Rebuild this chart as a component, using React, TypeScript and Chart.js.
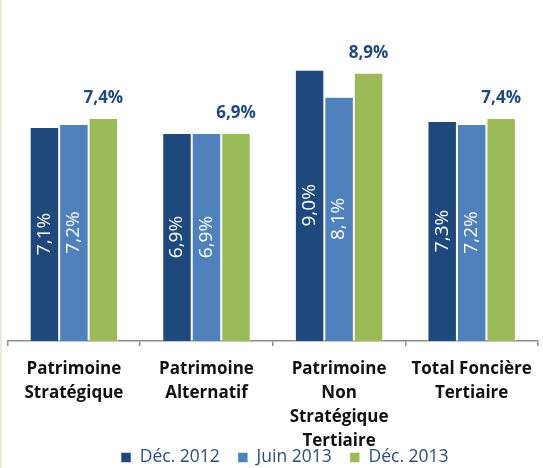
import React, { useEffect, useRef } from "react";
import { Chart, registerables } from "chart.js";

Chart.register(...registerables);

const categories: string[][] = [
  ["Patrimoine", "Stratégique"],
  ["Patrimoine", "Alternatif"],
  ["Patrimoine", "Non", "Stratégique", "Tertiaire"],
  ["Total Foncière", "Tertiaire"],
];
const seriesLabels = ["Déc. 2012", "Juin 2013", "Déc. 2013"];
const dec2012 = [7.1, 6.9, 9.0, 7.3];
const juin2013 = [7.2, 6.9, 8.1, 7.2];
const dec2013 = [7.4, 6.9, 8.9, 7.4];
const seriesColors = ["#1F497D", "#4F81BD", "#9BBB59"];

const fmt = (v: number) => v.toFixed(1).replace(".", ",") + "%";

const LEGEND_PAD = 18;
const LEGEND_FONT = 17.5;

const barLabels = {
  id: "barLabels",
  afterDatasetsDraw(chart: any) {
    const ctx = chart.ctx;
    chart.data.datasets.forEach((ds: any, di: number) => {
      const meta = chart.getDatasetMeta(di);
      meta.data.forEach((bar: any, i: number) => {
        const txt = fmt(ds.data[i]);
        const { x, y, base } = bar.getProps(["x", "y", "base"], true);
        ctx.save();
        if (di < 2) {
          ctx.translate(x, (y + base) / 2);
          ctx.rotate(-Math.PI / 2);
          ctx.font = "19px 'Open Sans'";
          ctx.fillStyle = "#ffffff";
          ctx.textAlign = "center";
          ctx.textBaseline = "middle";
          ctx.fillText(txt, 0, 0);
        } else {
          ctx.font = "bold 17px 'Open Sans'";
          ctx.fillStyle = "#1F497D";
          ctx.textAlign = "center";
          ctx.textBaseline = "alphabetic";
          ctx.fillText(txt, x, y - 15);
        }
        ctx.restore();
      });
    });
  },
};

// Move the legend box so that it can sit partly under the tall category labels
const legendPlacement = {
  id: "legendPlacement",
  afterLayout(chart: any) {
    const lg = chart.legend;
    if (!lg) return;
    const centerY = chart.height - 10.5;
    lg.top = centerY - LEGEND_PAD - LEGEND_FONT / 2;
    lg.bottom = chart.height;
    lg.height = lg.bottom - lg.top;
    lg.left += 10;
    lg.right += 10;
  },
};

export default function App() {
  const ref = useRef<HTMLCanvasElement | null>(null);

  useEffect(() => {
    if (!ref.current) return;
    Chart.defaults.font.family = "'Open Sans', sans-serif";
    const seriesData = [dec2012, juin2013, dec2013];
    const chart = new Chart(ref.current, {
      type: "bar",
      data: {
        labels: categories,
        datasets: seriesLabels.map((label, i) => ({
          label,
          data: seriesData[i],
          backgroundColor: seriesColors[i],
          borderColor: "rgba(255,255,255,0.5)",
          borderWidth: 1,
          borderSkipped: "bottom",
          barPercentage: 1,
          categoryPercentage: 0.667,
        })),
      },
      options: {
        responsive: false,
        animation: false,
        devicePixelRatio: 1,
        layout: { padding: { top: 39.5, left: 7.6, right: 1, bottom: 0 } },
        scales: {
          x: {
            grid: {
              display: true,
              drawOnChartArea: false,
              drawTicks: true,
              tickLength: 5,
              color: "#8c8c8c",
              lineWidth: 1.5,
              offset: true,
            },
            border: { display: true, color: "#8c8c8c", width: 1.5 },
            ticks: {
              color: "#111111",
              font: { weight: "bold", size: 17, lineHeight: 1.42 },
              padding: 11,
              autoSkip: false,
              maxRotation: 0,
              minRotation: 0,
            },
            afterFit: (scale: any) => {
              scale.height = 113;
            },
          },
          y: {
            display: false,
            min: 0,
            max: 10,
          },
        },
        plugins: {
          legend: {
            position: "bottom",
            maxHeight: 14,
            labels: {
              boxWidth: 10,
              boxHeight: 10,
              padding: LEGEND_PAD,
              color: "#2B4E82",
              font: { size: LEGEND_FONT },
            },
          },
          tooltip: { enabled: false },
          title: { display: false },
        },
      },
      plugins: [barLabels, legendPlacement],
    } as any);
    return () => chart.destroy();
  }, []);

  return (
    <div style={{ position: "absolute", left: 0, top: 0, width: 543, height: 468, overflow: "hidden", background: "#ffffff" }}>
      <div style={{ position: "absolute", left: 0, top: 0, width: 2, height: 468, background: "#e4ecd6" }} />
      <canvas ref={ref} width={543} height={468} style={{ display: "block", width: 543, height: 468 }} />
    </div>
  );
}
